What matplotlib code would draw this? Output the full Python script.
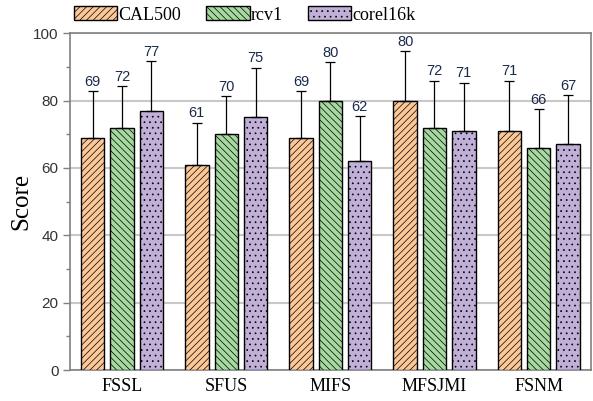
"""
Grouped bar chart: Score per method on CAL500 / rcv1 / corel16k
with one-sided error bars and value labels
"""

import numpy as np
import matplotlib.pyplot as plt
from matplotlib.ticker import MultipleLocator

# ============================================================================
# DATA
# ============================================================================

methods = ['FSSL', 'SFUS', 'MIFS', 'MFSJMI', 'FSNM']
datasets = ['CAL500', 'rcv1', 'corel16k']

cal500_scores = [69, 61, 69, 80, 71]
rcv1_scores = [72, 70, 80, 72, 66]
corel16k_scores = [77, 75, 62, 71, 67]

# upper error (read from the cap positions)
cal500_err = [13.8, 12.5, 13.8, 14.7, 14.9]
rcv1_err = [12.2, 11.4, 11.4, 13.9, 11.5]
corel16k_err = [14.7, 14.8, 13.3, 14.3, 14.7]

# ============================================================================
# STYLE
# ============================================================================

colors = ['#fdc897', '#a6d9a0', '#c0b0d8']
hatches = ['/////', '\\\\\\\\\\', '...']
label_color = '#1a2a4a'
spine_color = '#808080'

plt.rcParams['hatch.linewidth'] = 0.5

scores = [cal500_scores, rcv1_scores, corel16k_scores]
errors = [cal500_err, rcv1_err, corel16k_err]

fig = plt.figure(figsize=(5.93, 4.01), dpi=100)
ax = fig.add_axes([70/593, 31/401, 520.7/593, 336.7/401])

x = np.arange(len(methods))
width = 0.224
step = 0.282

handles = []
for i, (name, vals, errs) in enumerate(zip(datasets, scores, errors)):
    pos = x + (i - 1) * step
    bars = ax.bar(pos, vals, width, color=colors[i], edgecolor='black',
                  linewidth=1.0, hatch=hatches[i], label=name, zorder=3)
    handles.append(bars)
    ax.errorbar(pos, vals, yerr=[np.zeros(len(vals)), errs], fmt='none',
                ecolor='black', elinewidth=0.9, capsize=3.5, capthick=0.9,
                zorder=4)
    # valores em cima das barras de erro
    for p, v, e in zip(pos, vals, errs):
        ax.text(p, v + e + 0.7, f'{v}', ha='center', va='bottom',
                fontsize=10.5, family='Liberation Sans', color=label_color)

ax.set_xlim(-0.5, len(methods) - 0.5)
ax.set_ylim(0, 100)
ax.yaxis.set_major_locator(MultipleLocator(20))
ax.yaxis.set_minor_locator(MultipleLocator(10))
ax.set_xticks(x)
ax.set_xticklabels(methods, family='Liberation Serif', fontsize=13)
ax.tick_params(axis='x', length=0, pad=6)
ax.tick_params(axis='y', which='major', length=5.3, width=1, color=spine_color,
               pad=3, labelsize=11, labelcolor='#333333')
ax.tick_params(axis='y', which='minor', length=2.6, width=1, color=spine_color)
for lab in ax.get_yticklabels():
    lab.set_family('Liberation Sans')

ax.grid(axis='y', which='major', color='#c8c8c8', linewidth=1.5, zorder=0)
ax.set_axisbelow(True)
for sp in ax.spines.values():
    sp.set_color(spine_color)
    sp.set_linewidth(1.2)

ax.set_ylabel('Score', family='Liberation Serif', fontsize=18)
ax.yaxis.set_label_coords(-0.072, 0.5)

fig.legend(handles=handles, labels=datasets, loc='center left',
           bbox_to_anchor=(74/593, 1 - 15/401), ncol=3, frameon=False,
           prop={'family': 'Liberation Serif', 'size': 13},
           handlelength=2.4, handleheight=0.8, handletextpad=0.05,
           columnspacing=1.4, borderpad=0, borderaxespad=0)

fig.savefig('out.png', dpi=100)
